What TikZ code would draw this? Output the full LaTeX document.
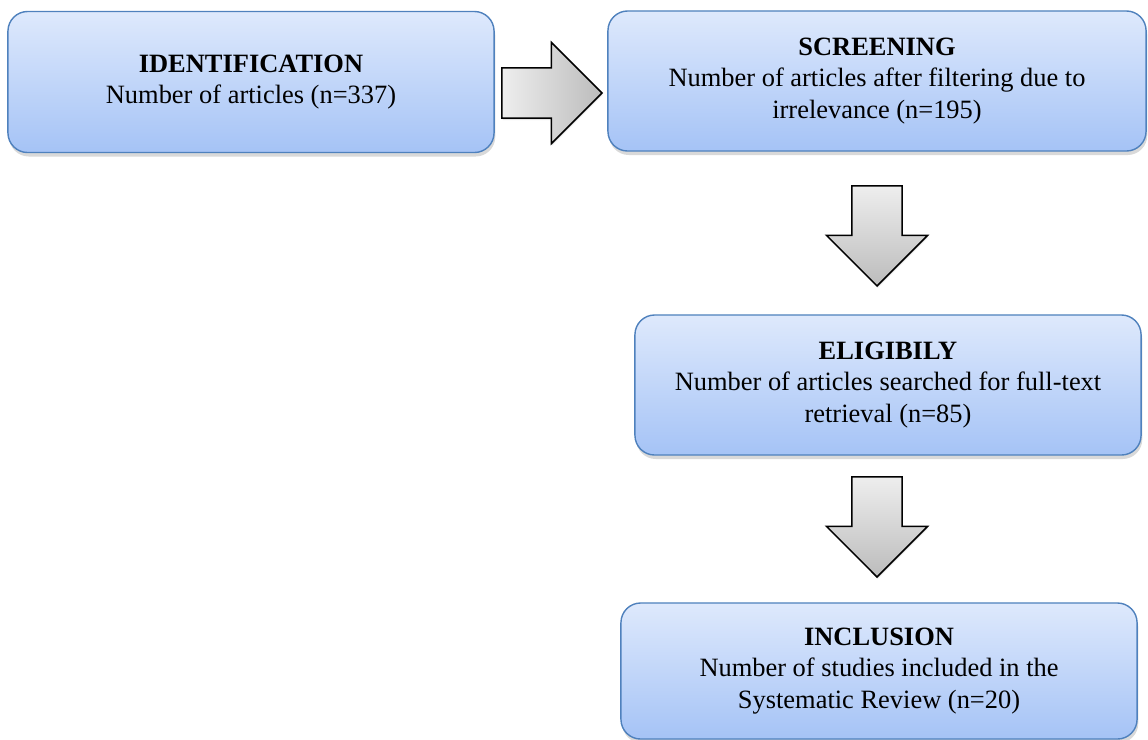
\documentclass[tikz,border=0pt]{standalone}
\usepackage{fontspec}
\setmainfont{Liberation Serif}
\usepackage{tikz}
\usetikzlibrary{shapes.arrows,shadows}
\usepackage{xcolor}

\definecolor{boxtop}{RGB}{222,233,252}
\definecolor{boxbot}{RGB}{165,195,246}
\definecolor{boxline}{RGB}{79,129,189}
\definecolor{arrlight}{RGB}{238,238,238}
\definecolor{arrdark}{RGB}{188,188,188}

\begin{document}
\begin{tikzpicture}[
  x=0.025cm, y=-0.025cm,
  stage/.style={draw=boxline, line width=1pt, rounded corners=14pt, top color=boxtop, bottom color=boxbot,
    align=center, font=\fontsize{18.8}{22.5}\selectfont, anchor=center,
    drop shadow={shadow xshift=0.03cm, shadow yshift=-0.1cm, opacity=0.3}},
  blockarrow/.style={single arrow, draw=black, line width=1.1pt, anchor=tip,
    minimum width=2.525cm, minimum height=2.5cm, single arrow head extend=0.625cm, single arrow tip angle=90,
    drop shadow={shadow xshift=0.02cm, shadow yshift=-0.05cm, opacity=0.2}},
  rightarrow/.style={blockarrow, inner xsep=0pt, inner ysep=0.6cm, left color=arrlight, right color=arrdark},
  downarrow/.style={blockarrow, inner xsep=0.6cm, inner ysep=0pt, shape border rotate=270,
    top color=arrlight, bottom color=arrdark},
]
\useasboundingbox (0,0) rectangle (1148,739);

% Stages of the review
\node[stage, minimum width=12.15cm, minimum height=3.525cm] (ident) at (251,82)
  {\textbf{IDENTIFICATION}\\Number of articles (n=337)};
\node[stage, minimum width=13.45cm, minimum height=3.5cm] (screen) at (877,81)
  {\textbf{SCREENING}\\Number of articles after filtering due to\\irrelevance (n=195)};
\node[stage, minimum width=12.65cm, minimum height=3.5cm] (elig) at (888,385)
  {\textbf{ELIGIBILY}\\Number of articles searched for full-text\\retrieval (n=85)};
\node[stage, minimum width=12.9cm, minimum height=3.4cm] (incl) at (879,671)
  {\textbf{INCLUSION}\\Number of studies included in the\\Systematic Review (n=20)};

% Block arrows between stages
\node[rightarrow] (arrA) at (603,93) {};
\node[downarrow] (arrB) at (877,287) {};
\node[downarrow] (arrC) at (877,578) {};

\end{tikzpicture}
\end{document}
